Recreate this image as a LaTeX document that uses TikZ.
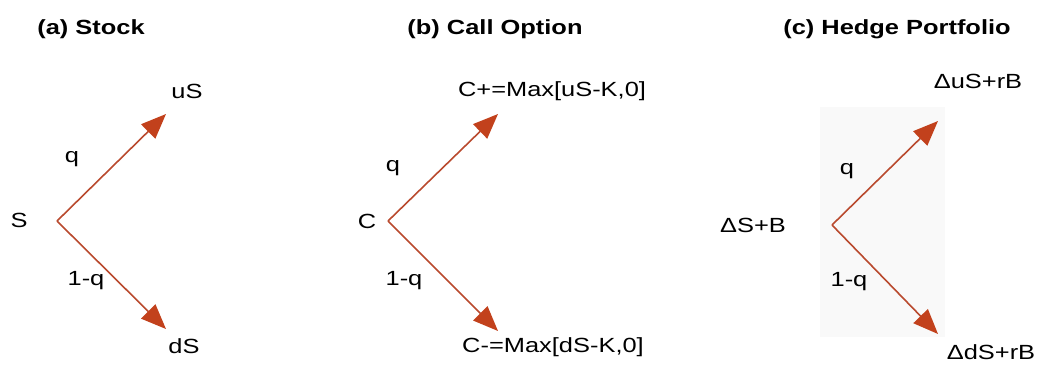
\documentclass[tikz,border=0pt]{standalone}
\usepackage{fontspec}
\setmainfont[FakeStretch=1.24]{Liberation Sans}
\usetikzlibrary{arrows.meta}
\definecolor{arrowred}{HTML}{B94A2E}
\definecolor{headred}{HTML}{C2411C}
\definecolor{panelbg}{HTML}{F9F9F9}
\tikzset{
  lbl/.style={inner sep=0pt, font=\fontsize{20.5}{23}\selectfont},
  ttl/.style={inner sep=0pt, font=\fontsize{20.5}{23}\selectfont\bfseries},
  branch/.style={draw=arrowred, line width=1.6pt,
    -{Triangle[length=25pt,width=20pt,color=headred,fill=headred]}},
}
\begin{document}
\begin{tikzpicture}[x=1pt,y=-1pt]
\useasboundingbox (0,0) rectangle (1040,368);
\fill[panelbg] (820,107) rectangle (945,337);
% (a) Stock
\node[ttl] (ta) at (91,29) {(a) Stock};
\node[lbl] (s0) at (19,220) {S};
\coordinate (oa) at (57,221);
\coordinate (ua) at (166,114);
\coordinate (da) at (166,329);
\node[lbl] (us) at (187,91) {uS};
\node[lbl] (ds) at (184,346) {dS};
\node[lbl] (qa) at (72,159) {q};
\node[lbl] (pa) at (86,281) {1-q};
\draw[branch] (oa) -- (ua);
\draw[branch] (oa) -- (da);
% (b) Call Option
\node[ttl] (tb) at (495,29) {(b) Call Option};
\node[lbl] (c0) at (367,221) {C};
\coordinate (ob) at (388,221);
\coordinate (ub) at (498,114);
\coordinate (db) at (498,331);
\node[lbl] (cu) at (552,91) {C+=Max[uS-K,0]};
\node[lbl] (cd) at (553,347) {C-=Max[dS-K,0]};
\node[lbl] (qb) at (393,168) {q};
\node[lbl] (pb) at (404,281) {1-q};
\draw[branch] (ob) -- (ub);
\draw[branch] (ob) -- (db);
% (c) Hedge Portfolio
\node[ttl] (tc) at (897,29) {(c) Hedge Portfolio};
\node[lbl] (h0) at (753,225) {ΔS+B};
\coordinate (oc) at (832,225);
\coordinate (uc) at (938,121);
\coordinate (dc) at (938,334);
\node[lbl] (hu) at (978,81) {ΔuS+rB};
\node[lbl] (hd) at (991,352) {ΔdS+rB};
\node[lbl] (qc) at (847,171) {q};
\node[lbl] (pc) at (849,282) {1-q};
\draw[branch] (oc) -- (uc);
\draw[branch] (oc) -- (dc);
\end{tikzpicture}
\end{document}
